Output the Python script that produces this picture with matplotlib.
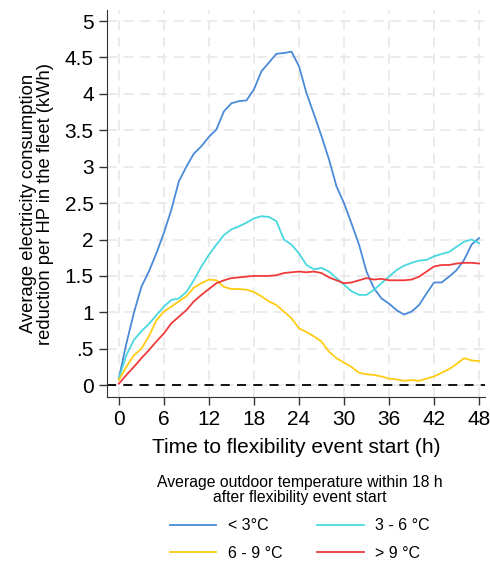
import numpy as np
import matplotlib
matplotlib.use("Agg")
import matplotlib.pyplot as plt

plt.rcParams['font.family'] = ['Liberation Sans', 'DejaVu Sans']

hours = list(range(0, 49))

# < 3°C
cold = [0.09, 0.57, 0.99, 1.35, 1.56, 1.81, 2.09, 2.41, 2.80, 3.00, 3.18, 3.28, 3.41,
        3.51, 3.76, 3.87, 3.90, 3.91, 4.06, 4.31, 4.43, 4.55, 4.56, 4.58, 4.38, 4.01,
        3.72, 3.42, 3.10, 2.73, 2.50, 2.22, 1.93, 1.56, 1.33, 1.19, 1.12, 1.03, 0.97,
        1.01, 1.10, 1.26, 1.41, 1.41, 1.49, 1.58, 1.72, 1.93, 2.02]
# 3 - 6 °C
cool = [0.09, 0.41, 0.62, 0.74, 0.84, 0.96, 1.08, 1.17, 1.19, 1.28, 1.44, 1.63, 1.79,
        1.93, 2.06, 2.14, 2.18, 2.23, 2.29, 2.32, 2.31, 2.25, 2.00, 1.93, 1.81, 1.65,
        1.59, 1.61, 1.56, 1.47, 1.38, 1.29, 1.24, 1.24, 1.31, 1.40, 1.49, 1.58, 1.64,
        1.68, 1.71, 1.72, 1.77, 1.80, 1.83, 1.90, 1.97, 2.00, 1.95]
# 6 - 9 °C
mild = [0.07, 0.25, 0.41, 0.50, 0.67, 0.89, 1.01, 1.08, 1.15, 1.22, 1.34, 1.40, 1.45,
        1.44, 1.35, 1.32, 1.32, 1.31, 1.28, 1.22, 1.15, 1.10, 1.01, 0.92, 0.78, 0.73,
        0.67, 0.60, 0.46, 0.37, 0.31, 0.25, 0.17, 0.15, 0.14, 0.12, 0.09, 0.08, 0.06,
        0.07, 0.06, 0.09, 0.12, 0.17, 0.22, 0.29, 0.37, 0.34, 0.33]
# > 9 °C
warm = [0.02, 0.14, 0.25, 0.37, 0.48, 0.60, 0.71, 0.85, 0.94, 1.03, 1.15, 1.24, 1.32,
        1.40, 1.44, 1.47, 1.48, 1.49, 1.50, 1.50, 1.50, 1.51, 1.54, 1.55, 1.56, 1.55,
        1.56, 1.54, 1.48, 1.44, 1.40, 1.41, 1.44, 1.47, 1.45, 1.46, 1.44, 1.44, 1.44,
        1.45, 1.49, 1.56, 1.63, 1.65, 1.65, 1.67, 1.68, 1.68, 1.67]

labels = ['< 3°C', '3 - 6 °C', '6 - 9 °C', '> 9 °C']
colors = ['#4a8ad8', '#4ad8e0', '#ffcc14', '#f03a3a']

xticks = list(range(0, 49, 6))
yticks = [0, 0.5, 1, 1.5, 2, 2.5, 3, 3.5, 4, 4.5, 5]
ytick_labels = ['0', '.5', '1', '1.5', '2', '2.5', '3', '3.5', '4', '4.5', '5']

fig = plt.figure(figsize=(4.9, 5.61), dpi=100)
ax = fig.add_axes([0.218, 0.292, 0.772, 0.69])

lines = []
for y, lab, c in zip([cold, cool, mild, warm], labels, colors):
    ln, = ax.plot(hours, y, color=c, lw=1.3, label=lab)
    lines.append(ln)

ax.axhline(0, color='black', lw=1.3, ls=(0, (5, 4)), zorder=1)

ax.set_xlim(-1.6, 48.8)
ax.set_ylim(-0.165, 5.15)
ax.set_xticks(xticks)
ax.set_yticks(yticks)
ax.set_yticklabels(ytick_labels)
ax.tick_params(labelsize=15, length=6, width=1, color='#333333')
ax.grid(True, color='#e8e8e8', ls=(0, (6, 4)), lw=1.2)
ax.set_axisbelow(True)
for s in ['top', 'right']:
    ax.spines[s].set_visible(False)
for s in ['left', 'bottom']:
    ax.spines[s].set_color('#333333')

ax.set_xlabel('Time to flexibility event start (h)', fontsize=15, labelpad=6)
ax.set_ylabel('Average electricity consumption\nreduction per HP in the fleet (kWh)',
              fontsize=13.2, labelpad=8, linespacing=1.0)

# row-major order like the original legend
order = [0, 2, 1, 3]
leg = ax.legend([lines[i] for i in order], [labels[i] for i in order],
                loc='upper center', bbox_to_anchor=(0.51, -0.165), ncol=2, frameon=False,
                fontsize=11.5, title='Average outdoor temperature within 18 h\nafter flexibility event start',
                title_fontsize=11.3, handlelength=2.9, handletextpad=0.7, columnspacing=2.2,
                labelspacing=0.8)
leg.get_title().set_multialignment('center')
leg.get_title().set_linespacing(1.0)

fig.savefig('out.png', dpi=100)
